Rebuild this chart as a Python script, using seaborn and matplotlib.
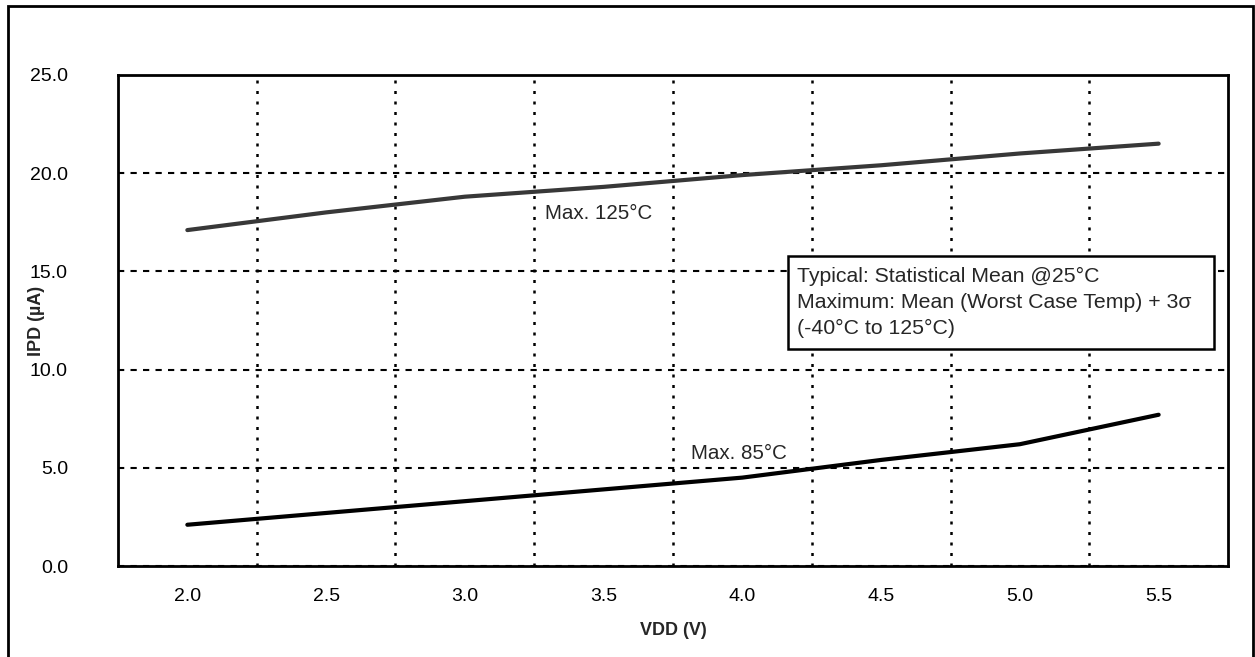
import pandas as pd
import matplotlib.pyplot as plt
import seaborn as sns
from matplotlib.patches import Rectangle

# valores
vdd_labels = ["2.0", "2.5", "3.0", "3.5", "4.0", "4.5", "5.0", "5.5"]
ipd_max_125 = [17.1, 18.0, 18.8, 19.3, 19.9, 20.4, 21.0, 21.5]
ipd_max_85 = [2.1, 2.7, 3.3, 3.9, 4.5, 5.4, 6.2, 7.7]
y_ticks = [0, 5, 10, 15, 20, 25]

sns.set_style("white")
plt.rcParams["font.family"] = ["Liberation Sans", "DejaVu Sans"]

n = len(vdd_labels)
df = pd.DataFrame({
    "pos": list(range(n)) * 2,
    "ipd": ipd_max_125 + ipd_max_85,
    "curva": ["Max. 125°C"] * n + ["Max. 85°C"] * n,
})

fig = plt.figure(figsize=(12.55, 6.57), dpi=100)
ax = fig.add_axes([0.094, 0.1385, 0.8845, 0.7475])

sns.lineplot(data=df, x="pos", y="ipd", hue="curva",
             palette={"Max. 125°C": "#383838", "Max. 85°C": "#000000"},
             linewidth=3, legend=False, ax=ax)

ax.set_xlim(-0.5, n - 0.5)
ax.set_ylim(0, 25)
ax.set_xticks(range(n))
ax.set_xticklabels(vdd_labels)
ax.set_xticks([i + 0.5 for i in range(n - 1)], minor=True)
ax.set_yticks(y_ticks)
ax.set_yticklabels([f"{v:.1f}" for v in y_ticks])
ax.tick_params(axis="both", which="both", length=0, labelsize=14, colors="black")
ax.tick_params(axis="y", pad=36)
ax.tick_params(axis="x", pad=16)

ax.grid(False)
ax.grid(True, axis="y", which="major", color="black", linestyle=(0, (3, 3)), linewidth=1.5)
ax.grid(True, axis="x", which="minor", color="black", linestyle=(0, (1.2, 3)), linewidth=1.8)
for s in ax.spines.values():
    s.set_visible(True)
    s.set_color("black")
    s.set_linewidth(2)

ax.set_xlabel("VDD (V)", fontsize=13, fontweight="bold", labelpad=12)
ax.set_ylabel("IPD (µA)", fontsize=13, fontweight="bold")
ax.yaxis.set_label_coords(-0.066, 0.5)

ax.text(2.58, 17.95, "Max. 125°C", fontsize=14.8, va="center", ha="left")
ax.text(3.63, 5.75, "Max. 85°C", fontsize=14.8, va="center", ha="left")

ax.add_patch(Rectangle((0.604, 0.442), 0.383, 0.19, transform=ax.transAxes,
                       facecolor="white", edgecolor="black", linewidth=1.8, zorder=5))
box_lines = ["Typical: Statistical Mean @25°C",
             "Maximum: Mean (Worst Case Temp) + 3σ",
             "(-40°C to 125°C)"]
for i, t in enumerate(box_lines):
    ax.text(0.612, 0.59 - i * 0.053, t, transform=ax.transAxes, fontsize=15.3,
            va="center", ha="left", zorder=6)

# moldura externa
fig.add_artist(Rectangle((8 / 1255, -0.05), 1245 / 1255, 1.05 - 6 / 657,
                         transform=fig.transFigure, fill=False,
                         edgecolor="black", linewidth=2))

fig.savefig("out.png", dpi=100)
